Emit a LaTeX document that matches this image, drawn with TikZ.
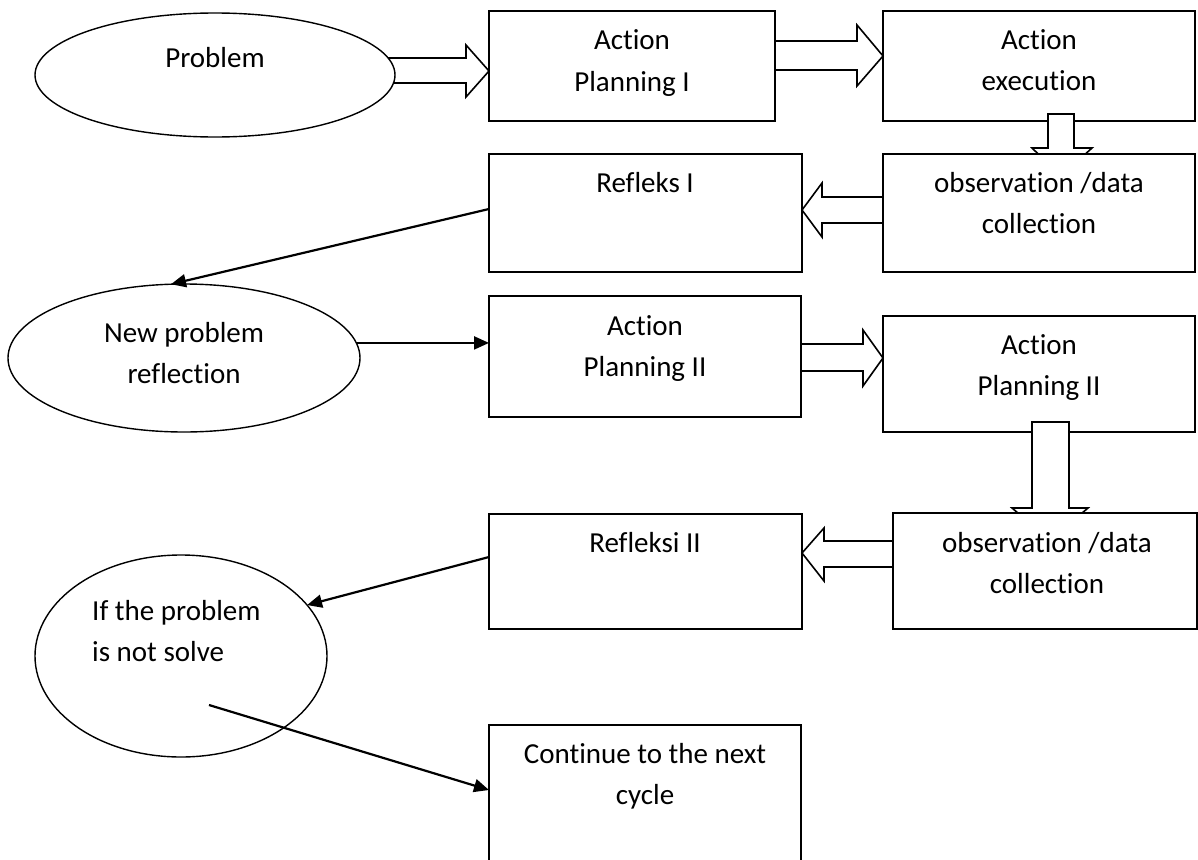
\documentclass[tikz,border=0pt]{standalone}
\usepackage{fontspec}
\setmainfont{Carlito}[Ligatures=NoCommon]
\usetikzlibrary{arrows.meta,shapes.geometric,calc}
\begin{document}
\begin{tikzpicture}[x=1pt,y=-1pt,
  box/.style={draw, fill=white, line width=1.9pt, inner sep=0pt, outer sep=0pt, anchor=north west},
  oval/.style={draw, fill=white, ellipse, line width=1.4pt, inner sep=0pt, outer sep=0pt},
  txt/.style={font=\fontsize{29}{41}\selectfont, align=center, inner sep=0pt, anchor=base},
  barrow/.style={draw, fill=white, line width=1.6pt, line join=miter},
  arr/.style={line width=2.2pt, -{Triangle[length=15pt,width=13pt]}},
]
\useasboundingbox (0,0) rectangle (1198,859);

% row 1
\draw[barrow] (380,58) -- (466,58) -- (466,45) -- (489,71) -- (466,97) -- (466,83) -- (380,83) -- cycle;
\node[oval, minimum width=360pt, minimum height=124pt] (prob) at (215,75) {};
\node[txt] (tprob) at (215,67) {Problem};
\node[box, minimum width=286pt, minimum height=110pt] (ap1) at (489,11) {};
\node[txt] (tap1) at (632,91) {Action\\Planning I};
\node[box, minimum width=312pt, minimum height=110pt] (ae) at (883,11) {};
\node[txt] (tae) at (1039,90) {Action\\execution};
\draw[barrow] (775,41) -- (857,41) -- (857,25) -- (883,56) -- (857,86) -- (857,70) -- (775,70) -- cycle;
\draw[barrow] (1048,114) -- (1074,114) -- (1074,148) -- (1092,148) -- (1061,176) -- (1032,148) -- (1048,148) -- cycle;

% row 2
\node[box, minimum width=312pt, minimum height=118pt] (obs1) at (883,154) {};
\node[txt] (tobs1) at (1039,233) {observation /data\\collection};
\node[box, minimum width=313pt, minimum height=118pt] (refl1) at (489,154) {};
\node[txt] (trefl1) at (645,192) {Refleks I};
\draw[barrow] (883,197) -- (822,197) -- (822,183) -- (802,210) -- (822,237) -- (822,223) -- (883,223) -- cycle;

% row 3
\node[oval, minimum width=352pt, minimum height=148pt] (newp) at (184,358) {};
\node[txt] (tnewp) at (184,383) {New problem\\reflection};
\draw[arr] ([yshift=4pt]refl1.west) -- (newp.100);
\node[box, minimum width=312pt, minimum height=121pt] (ap2) at (489,296) {};
\node[txt] (tap2) at (645,376) {Action\\Planning II};
\draw[arr] (newp.5) -- (newp.5 -| ap2.west);
\node[box, minimum width=312pt, minimum height=116pt] (ap2b) at (883,316) {};
\node[txt] (tap2b) at (1039,395) {Action\\Planning II};
\draw[barrow] (801,344) -- (863,344) -- (863,330) -- (883,358) -- (863,386) -- (863,371) -- (801,371) -- cycle;
\draw[barrow] (1032,422) -- (1069,422) -- (1069,508) -- (1088,508) -- (1050,540) -- (1012,508) -- (1032,508) -- cycle;

% row 4
\node[box, minimum width=304pt, minimum height=116pt] (obs2) at (893,513) {};
\node[txt] (tobs2) at (1047,593) {observation /data\\collection};
\node[box, minimum width=313pt, minimum height=115pt] (refl2) at (489,514) {};
\node[txt] (trefl2) at (645,552) {Refleksi II};
\draw[barrow] (893,541) -- (824,541) -- (824,528) -- (802,553) -- (824,581) -- (824,567) -- (893,567) -- cycle;

\node[oval, minimum width=292pt, minimum height=202pt] (circ) at (181,656) {};
\node[txt, anchor=base west, align=left] (tcirc) at (92,661) {If the problem\\is not solve};
\draw[arr] ([yshift=14.5pt]refl2.west) -- (circ.22);

% row 5
\node[box, minimum width=312pt, minimum height=145pt] (cont) at (489,725) {};
\node[txt] (tcont) at (645,804) {Continue to the next\\cycle};
\coordinate (c0) at (209,705);
\draw[arr] (c0) -- ([yshift=7.5pt]cont.west);
\end{tikzpicture}
\end{document}
